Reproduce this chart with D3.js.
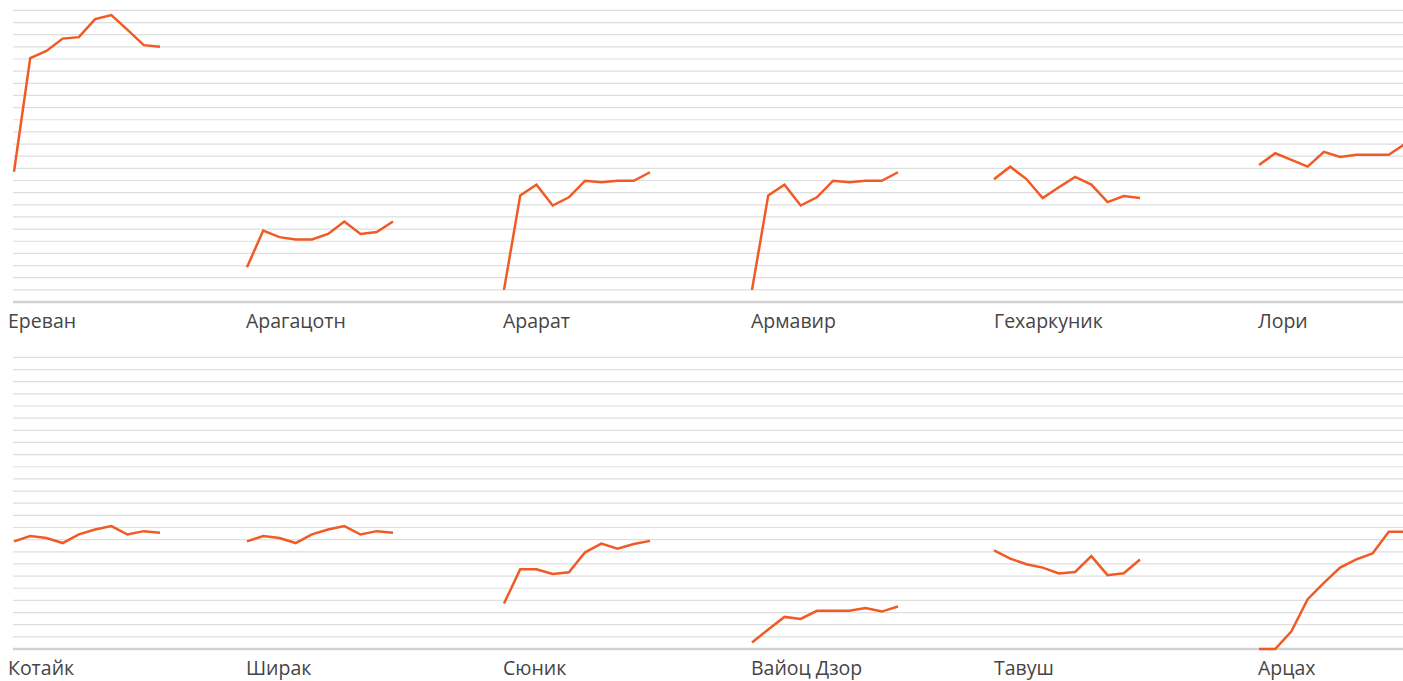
<!DOCTYPE html>
<html>
<head>
<meta charset="utf-8">
<script src="https://cdn.jsdelivr.net/npm/d3@7"></script>
<style>
  html, body { margin: 0; padding: 0; background: #fff; }
  svg { display: block; }
</style>
</head>
<body>
<svg id="chart" width="1403" height="681"></svg>
<script>
// ---- data ----
const years = ["2008","2009","2010","2011","2012","2013","2014","2015","2016","2017"];
const regions = ["Ереван","Арагацотн","Арарат","Армавир","Гехаркуник","Лори",
                 "Котайк","Ширак","Сюник","Вайоц Дзор","Тавуш","Арцах"];
const yerevan     = [53.6, 100.4, 103.3, 108.4, 109.0, 116.4, 118.1, 112.0, 105.7, 105.0];
const aragatsotn  = [14.3, 29.4, 26.7, 25.7, 25.7, 28.0, 33.1, 28.0, 28.8, 33.1];
const ararat      = [5.0, 43.8, 48.3, 39.7, 43.1, 49.9, 49.3, 49.9, 49.9, 53.4];
const armavir     = [5.0, 43.8, 48.3, 39.7, 43.1, 49.9, 49.3, 49.9, 49.9, 53.4];
const gegharkunik = [50.5, 55.7, 50.6, 42.8, 47.2, 51.5, 48.3, 41.1, 43.6, 42.8];
const lori        = [56.4, 61.2, 58.5, 55.7, 61.8, 59.7, 60.6, 60.6, 60.6, 65.0];
const kotayk      = [44.3, 46.5, 45.7, 43.6, 47.2, 49.2, 50.6, 47.1, 48.5, 47.8];
const shirak      = [44.3, 46.5, 45.7, 43.6, 47.2, 49.2, 50.6, 47.1, 48.5, 47.8];
const syunik      = [18.7, 32.8, 32.8, 30.9, 31.6, 39.8, 43.4, 41.3, 43.2, 44.5];
const vayotsDzor  = [2.7, 8.0, 13.2, 12.4, 15.7, 15.7, 15.7, 16.9, 15.4, 17.5];
const tavush      = [40.6, 37.2, 34.9, 33.5, 31.1, 31.7, 38.2, 30.4, 31.2, 36.8];
const artsakh     = [0, 0, 7.3, 20.5, 27.2, 33.5, 36.9, 39.3, 48.3, 48.3];
const seriesValues = [yerevan, aragatsotn, ararat, armavir, gegharkunik, lori,
                      kotayk, shirak, syunik, vayotsDzor, tavush, artsakh];
const gridTicks = d3.range(0, 121, 5);

// ---- layout ----
const W = 1403;
const panelLeft = [14, 247, 504, 752, 994, 1259];
const labelLeft = [8, 246, 503, 751, 994, 1258];
const panelWidth = 146;
const rowBaseline = [302, 649];
const rowHeight = 291.6;
const gridLeft = 13;
const lineColor = "#f15a24";

const svg = d3.select("#chart");

rowBaseline.forEach((base, r) => {
  const y = d3.scaleLinear().domain([0, 120]).range([base, base - rowHeight]);
  const g = svg.append("g");
  // gridlines
  g.selectAll("line.grid").data(gridTicks.filter(t => t > 0)).join("line")
    .attr("x1", gridLeft).attr("x2", W)
    .attr("y1", d => y(d)).attr("y2", d => y(d))
    .attr("stroke", "#dedede").attr("stroke-width", 1.2);
  // baseline
  g.append("line")
    .attr("x1", gridLeft).attr("x2", W)
    .attr("y1", y(0)).attr("y2", y(0))
    .attr("stroke", "#d2d2d2").attr("stroke-width", 2.5);

  for (let c = 0; c < 6; c++) {
    const i = r * 6 + c;
    const x = d3.scalePoint().domain(years)
      .range([panelLeft[c], panelLeft[c] + panelWidth]);
    const line = d3.line().x((d, k) => x(years[k])).y(d => y(d));
    g.append("path")
      .datum(seriesValues[i])
      .attr("d", line)
      .attr("fill", "none")
      .attr("stroke", lineColor)
      .attr("stroke-width", 2.5)
      .attr("stroke-linejoin", "miter");
    g.append("text")
      .attr("x", labelLeft[c])
      .attr("y", base + 26)
      .attr("font-family", "'Open Sans', 'Noto Sans', sans-serif")
      .attr("font-size", 19.5)
      .attr("fill", "#454545")
      .text(regions[i]);
  }
});
</script>
</body>
</html>
